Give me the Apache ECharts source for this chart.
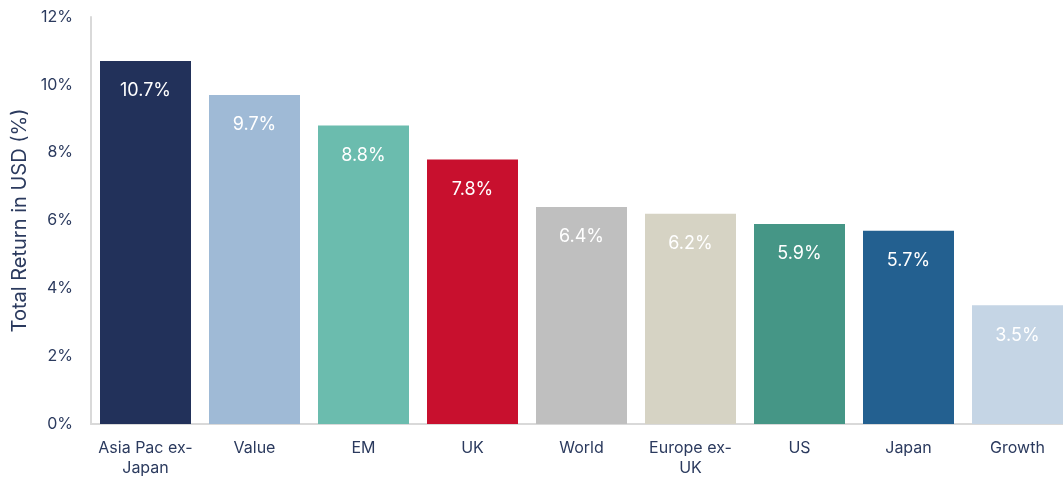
<!DOCTYPE html>
<html>
<head>
<meta charset="utf-8">
<script src="https://cdn.jsdelivr.net/npm/echarts@6/dist/echarts.min.js"></script>
<style>
  html, body { margin: 0; padding: 0; background: #fff; overflow: hidden; }
  #chart { width: 1072px; height: 478px; }
</style>
</head>
<body>
<div id="chart"></div>
<script>
const categories = ['Asia Pac ex-\nJapan', 'Value', 'EM', 'UK', 'World', 'Europe ex-\nUK', 'US', 'Japan', 'Growth']
const returns = [10.7, 9.7, 8.8, 7.8, 6.4, 6.2, 5.9, 5.7, 3.5]
const colors = ['#22315a', '#9fbad6', '#6bbcae', '#c8102e', '#bfbfbf', '#d6d3c4', '#459686', '#236090', '#c5d5e5']

const font = 'Inter, "Open Sans", sans-serif'
const textColor = '#2b3a5e'

// the last bar runs off the right edge in the original, so the chart is a bit wider than the window
const chart = echarts.init(document.getElementById('chart'))
chart.setOption({
  animation: false,
  textStyle: { fontFamily: font },
  grid: { left: 91, right: 0, top: 17, bottom: 54, containLabel: false },
  xAxis: {
    type: 'category',
    data: categories,
    axisLine: { lineStyle: { color: '#d9d9d9', width: 2 } },
    axisTick: { show: false },
    axisLabel: { color: textColor, fontSize: 16, fontFamily: font, margin: 14, lineHeight: 20, interval: 0 },
  },
  yAxis: {
    type: 'value',
    min: 0,
    max: 12,
    interval: 2,
    name: 'Total Return in USD (%)',
    nameLocation: 'middle',
    nameGap: 57,
    nameTextStyle: { color: textColor, fontSize: 20, fontFamily: font },
    axisLine: { show: true, lineStyle: { color: '#d9d9d9', width: 2 } },
    axisTick: { show: false },
    splitLine: { show: false },
    axisLabel: { color: textColor, fontSize: 16, fontFamily: font, margin: 18, formatter: '{value}%' },
  },
  series: [{
    type: 'bar',
    data: returns.map((v, i) => ({ value: v, itemStyle: { color: colors[i] } })),
    barWidth: 91,
    label: {
      show: true,
      position: 'insideTop',
      distance: 21,
      color: '#fff',
      fontSize: 18,
      fontFamily: font,
      formatter: (p) => p.value.toFixed(1) + '%',
    },
  }],
})
</script>
</body>
</html>
